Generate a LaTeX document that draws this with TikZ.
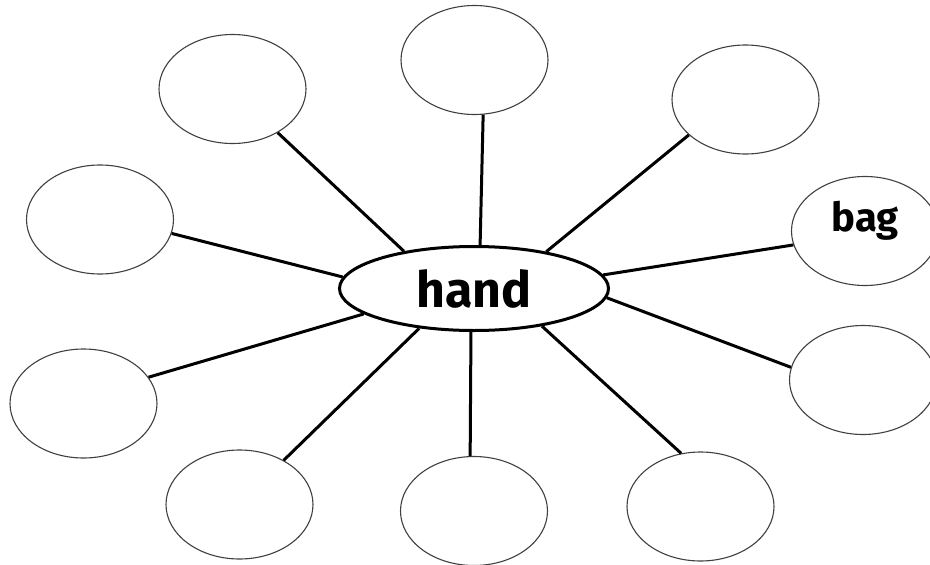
\documentclass[tikz,border=0pt]{standalone}
\usepackage{fontspec}
\setmainfont{Fira Sans}
\usetikzlibrary{shapes.geometric}

\begin{document}
\begin{tikzpicture}[x=1pt,y=-1pt,
    bubble/.style={ellipse,draw=black!75,line width=1.1pt,inner sep=0pt,
      minimum width=147pt,minimum height=109pt},
    hub/.style={ellipse,draw=black,line width=3pt,inner sep=0pt,
      minimum width=269pt,minimum height=84pt,font=\bfseries\fontsize{50}{50}\selectfont},
    spoke/.style={line width=3pt,black}]
  \useasboundingbox (0,0) rectangle (930,565);

  % Centre word
  \node[hub] (hand) at (474,288.5) {hand};

  % Outer bubbles
  \node[bubble] (topleft) at (232.5,89) {};
  \node[bubble] (topmid) at (474.5,60) {};
  \node[bubble] (topright) at (745.5,99.5) {};
  \node[bubble] (bag) at (865,231) {};
  \node[bubble] (rightlow) at (863,380) {};
  \node[bubble] (botright) at (700.5,506.5) {};
  \node[bubble] (botmid) at (474,511) {};
  \node[bubble] (botleft) at (239.5,504.5) {};
  \node[bubble] (leftlow) at (83.5,403.5) {};
  \node[bubble] (leftup) at (100,219.5) {};

  % Word in a bubble
  \node[anchor=base,font=\bfseries\fontsize{40}{40}\selectfont] (bagword) at (bag.center) {bag};

  % Spokes
  \draw[spoke] (topleft.-44.7) -- (hand.152.3);
  \draw[spoke] (topmid.-81.5) -- (hand.82.6);
  \draw[spoke] (topright.212.1) -- (hand.27.1);
  \draw[spoke] (bag.191.3) -- (hand.6.7);
  \draw[spoke] (rightlow.170.2) -- (hand.-4.9);
  \draw[spoke] (botright.110.1) -- (hand.-29.9);
  \draw[spoke] (botmid.94) -- (hand.-94.7);
  \draw[spoke] (botleft.45) -- (hand.216);
  \draw[spoke] (leftlow.22.5) -- (hand.193.4);
  \draw[spoke] (leftup.-11.7) -- (hand.175.3);
\end{tikzpicture}
\end{document}
